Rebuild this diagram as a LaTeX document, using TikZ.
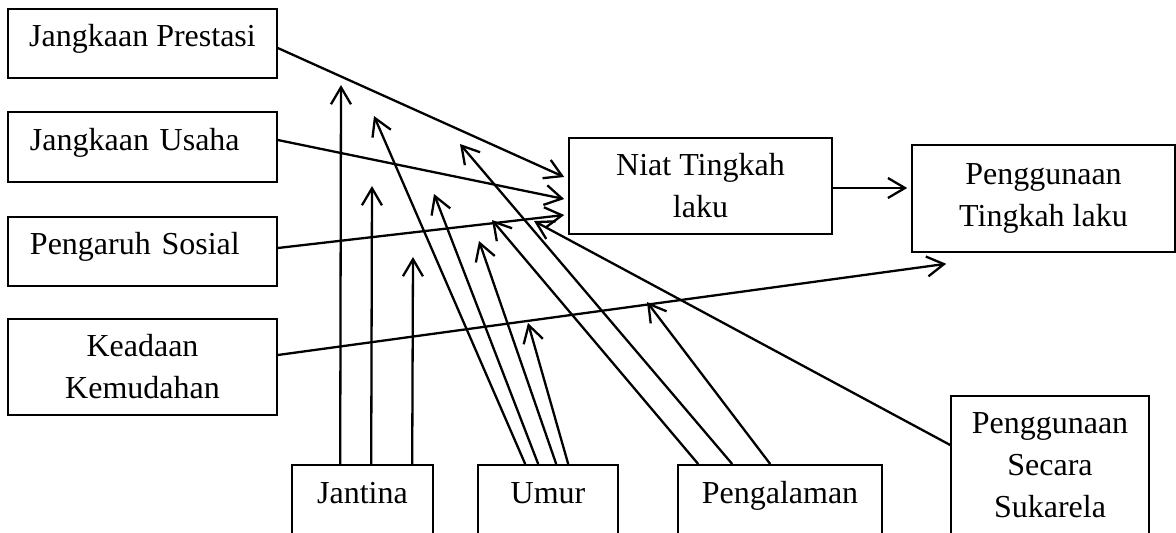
\documentclass[tikz,border=0pt]{standalone}
\usepackage{fontspec}
\setmainfont{Liberation Serif}
\usetikzlibrary{arrows.meta,calc}
\begin{document}
\begin{tikzpicture}[x=1pt,y=-1pt,
  every node/.style={font=\fontsize{32}{42}\selectfont},
  box/.style={draw, line width=1.6pt, inner sep=0pt, align=center},
  onebox/.style={draw, line width=1.6pt, inner sep=0pt, text height=21pt, text depth=15pt},
  cutbox/.style={draw, line width=1.6pt, inner sep=0pt, anchor=north, text height=39pt, text depth=90pt},
  arr/.style={line width=2.3pt, -{Straight Barb[length=17pt,width=20pt]}},
]
\useasboundingbox (0,0) rectangle (1176,533);

% boxes
\node[onebox, minimum width=269pt, minimum height=69pt] (jp) at (142.5,43.5) {Jangkaan Prestasi};
\node[onebox, minimum width=269pt, minimum height=70pt, text width=225pt, align=left] (ju) at (142.5,147) {Jangkaan Usaha};
\node[onebox, minimum width=269pt, minimum height=69pt, text width=225pt, align=left] (ps) at (142.5,251.5) {Pengaruh Sosial};
\node[box, minimum width=269pt, minimum height=96pt] (kk) at (142.5,367) {Keadaan\\Kemudahan};
\node[box, minimum width=263pt, minimum height=96pt] (niat) at (700.5,186) {Niat Tingkah\\laku};
\node[box, minimum width=263pt, minimum height=107pt] (ptl) at (1043.5,198.5) {Penggunaan\\Tingkah laku};
\node[cutbox, minimum width=141pt] (jan) at (362.5,464) {Jantina};
\node[cutbox, minimum width=140pt] (umur) at (548,464) {Umur};
\node[cutbox, minimum width=204pt] (peng) at (780,464) {Pengalaman};
\node[draw, line width=1.6pt, inner sep=0pt, anchor=north, minimum width=198pt,
      text height=38pt, text depth=150pt] (pss) at (1050,395)
      {\begin{tabular}[t]{@{}c@{}}Penggunaan\\Secara\\Sukarela\end{tabular}};

% free ends
\coordinate (j1) at (341,85);
\coordinate (j2) at (372,186);
\coordinate (j3) at (413,257);
\coordinate (u1) at (374,116);
\coordinate (u2) at (434,194);
\coordinate (u3) at (479,241);
\coordinate (u4) at (528,323);
\coordinate (p1) at (492,220);
\coordinate (p2) at (460,144);
\coordinate (p3) at (647,302);
\coordinate (s1) at (534,221);

% main arrows
\draw[arr] ($(jp.east)+(0,4.5)$) -- ($(niat.west)+(-4,-9)$);
\draw[arr] ($(ju.east)+(0,-7)$) -- ($(niat.west)+(-4,13)$);
\draw[arr] ($(ps.east)+(0,-3.5)$) -- ($(niat.west)+(-4,29)$);
\draw[arr] ($(kk.east)+(0,-12)$) -- ($(ptl.south west)+(35,11)$);
\draw[arr] ($(niat.east)+(0,2)$) -- ($(ptl.west)+(-4,-10.5)$);

% moderator arrows
\draw[arr] ($(jan.north west)+(49,0)$) -- (j1);
\draw[arr] ($(jan.north west)+(80,0)$) -- (j2);
\draw[arr] ($(jan.north west)+(121,0)$) -- (j3);
\draw[arr] ($(umur.north west)+(48,0)$) -- (u1);
\draw[arr] ($(umur.north west)+(61,0)$) -- (u2);
\draw[arr] ($(umur.north west)+(79,0)$) -- (u3);
\draw[arr] ($(umur.north west)+(91,0)$) -- (u4);
\draw[arr] ($(peng.north west)+(21,0)$) -- (p1);
\draw[arr] ($(peng.north west)+(55,0)$) -- (p2);
\draw[arr] ($(peng.north west)+(93,0)$) -- (p3);
\draw[arr] ($(pss.north west)+(0,50)$) -- (s1);
\end{tikzpicture}
\end{document}
